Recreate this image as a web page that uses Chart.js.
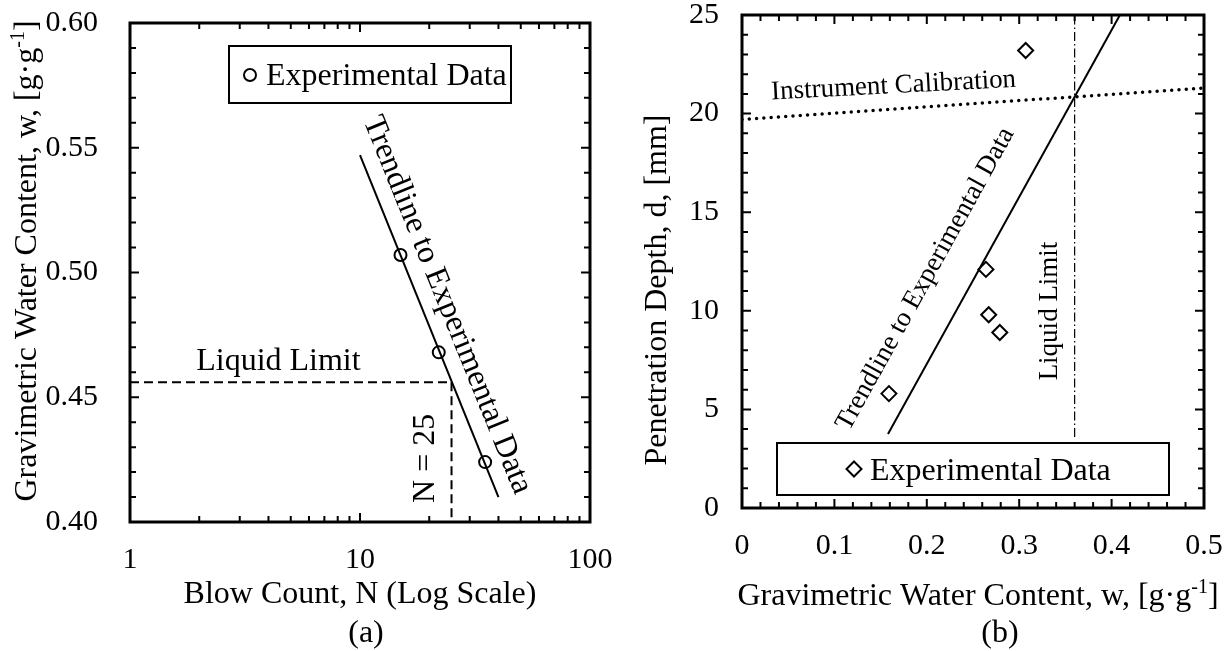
<!DOCTYPE html>
<html>
<head>
<meta charset="utf-8">
<script src="https://cdn.jsdelivr.net/npm/chart.js@4.4.0/dist/chart.umd.min.js"></script>
<style>
  html, body { margin: 0; padding: 0; background: #fff; }
  #wrap { position: relative; width: 1224px; height: 651px; overflow: hidden; }
  canvas { position: absolute; top: 0; }
</style>
</head>
<body>
<div id="wrap">
  <canvas id="cup" width="612" height="651" style="left:0"></canvas>
  <canvas id="cone" width="612" height="651" style="left:612px"></canvas>
</div>
<script>
const FONT = "'Liberation Serif', 'Times New Roman', Times, serif"
Chart.defaults.font.family = FONT
Chart.defaults.color = '#000'

// (a) cup method
const blowCount = [15, 22, 35]
const cupWater = [0.507, 0.468, 0.424]
const cupTrendN = [10, 40]
const cupTrendW = [0.547, 0.410]
const cupLL = 0.456        // water content at N = 25
const cupN = 25
const cupXTicks = [1, 10, 100]
const cupYTicks = [0.40, 0.45, 0.50, 0.55, 0.60]

// (b) fall cone
const coneWater = [0.307, 0.264, 0.267, 0.279, 0.159]
const coneDepth = [23.2, 12.1, 9.8, 8.9, 5.8]
const coneTrendW = [0.158, 0.409]
const coneTrendD = [3.75, 25]
const calibW = [0, 0.5]
const calibD = [19.7, 21.3]
const coneLL = 0.36
const coneLLD = [3.6, 25]
const coneXTicks = [0, 0.1, 0.2, 0.3, 0.4, 0.5]
const coneYTicks = [0, 5, 10, 15, 20, 25]

const pts = (xs, ys) => xs.map((x, i) => ({ x, y: ys[i] }))

// minor tick positions (axis decoration only)
const minors = (from, to, step, every) => {
    const out = []
    for (let i = from; i <= to; i++) if (i % every) out.push(i * step)
    return out
}
const cupXMinor = [2, 3, 4, 5, 6, 7, 8, 9].flatMap(m => [m, m * 10])
const cupYMinor = minors(41, 59, 0.01, 5)
const coneXMinor = minors(1, 24, 0.02, 5)
const coneYMinor = minors(1, 24, 1, 5)

function fixed(w, h){
    return s => {
        if (w) s.width = w
        if (h) s.height = h
        s.paddingLeft = s.paddingRight = s.paddingTop = s.paddingBottom = 0
    }
}

function axis(type, min, max, values, fmt, pad, fit){
    return {
        type, min, max,
        afterBuildTicks: s => { s.ticks = values.map(v => ({ value: v })) },
        afterFit: fit,
        grid: { display: false, drawTicks: false },
        border: { display: false },
        ticks: { padding: pad, autoSkip: false, maxRotation: 0, minRotation: 0,
                 font: { size: 30 }, color: '#000', callback: v => fmt(v) }
    }
}

function drawRich(ctx, parts, x, y, rot, size){
    ctx.save()
    ctx.translate(x, y)
    ctx.rotate(rot)
    const fonts = parts.map(p => (p.sup ? Math.round(size * 0.62) : size) + 'px ' + FONT)
    let total = 0
    const widths = parts.map((p, i) => { ctx.font = fonts[i]; const w = ctx.measureText(p.t).width; total += w; return w })
    let cx = -total / 2
    ctx.textAlign = 'left'
    ctx.textBaseline = 'alphabetic'
    parts.forEach((p, i) => {
        ctx.font = fonts[i]
        ctx.fillText(p.t, cx, p.sup ? -size * 0.38 : 0)
        cx += widths[i]
    })
    ctx.restore()
}

function marker(ctx, style, cx, cy){
    ctx.beginPath()
    if (style === 'circle') ctx.arc(cx, cy, 6, 0, Math.PI * 2)
    else { ctx.moveTo(cx, cy - 7.5); ctx.lineTo(cx + 7.5, cy); ctx.lineTo(cx, cy + 7.5); ctx.lineTo(cx - 7.5, cy); ctx.closePath() }
    ctx.lineWidth = 2
    ctx.stroke()
}

// frame, inward ticks, annotations, legend and titles
function deco(cfg){
    return {
        id: 'deco',
        afterDatasetsDraw(chart){
            const { ctx, chartArea: a, scales: { x, y } } = chart
            ctx.save()
            ctx.fillStyle = '#000'
            ctx.strokeStyle = '#000'
            ctx.lineWidth = 2
            const mark = (scale, values, len) => values.forEach(v => {
                const p = scale.getPixelForValue(v)
                ctx.beginPath()
                if (scale.isHorizontal()){
                    ctx.moveTo(p, a.bottom); ctx.lineTo(p, a.bottom - len)
                    ctx.moveTo(p, a.top); ctx.lineTo(p, a.top + len)
                } else {
                    ctx.moveTo(a.left, p); ctx.lineTo(a.left + len, p)
                    ctx.moveTo(a.right, p); ctx.lineTo(a.right - len, p)
                }
                ctx.stroke()
            })
            mark(x, cfg.xMajor, 9); mark(x, cfg.xMinor, 6)
            mark(y, cfg.yMajor, 9); mark(y, cfg.yMinor, 6)
            ctx.lineWidth = 3
            ctx.strokeRect(a.left, a.top, a.right - a.left, a.bottom - a.top)

            cfg.labels.forEach(l => {
                const px = x.getPixelForValue(l.at[0]), py = y.getPixelForValue(l.at[1])
                const rot = typeof l.rot === 'function' ? l.rot(x, y) : l.rot
                ctx.save()
                ctx.translate(px, py)
                ctx.rotate(rot)
                ctx.font = l.size + 'px ' + FONT
                ctx.textAlign = l.align || 'center'
                ctx.textBaseline = l.base || 'middle'
                ctx.fillText(l.text, 0, 0)
                ctx.restore()
            })

            const g = cfg.legend(a)
            ctx.lineWidth = 2
            ctx.strokeRect(g.x, g.y, g.w, g.h)
            marker(ctx, g.style, g.x + g.mx, g.y + g.my)
            ctx.font = '32px ' + FONT
            ctx.textAlign = 'left'
            ctx.textBaseline = 'alphabetic'
            ctx.fillText('Experimental Data', g.x + g.tx, g.y + g.ty)

            cfg.titles.forEach(t => drawRich(ctx, t.parts, t.x, t.y, t.rot || 0, 32))
            ctx.restore()
        }
    }
}

const along = (xs, ys) => (x, y) => Math.atan2(
    y.getPixelForValue(ys[1]) - y.getPixelForValue(ys[0]),
    x.getPixelForValue(xs[1]) - x.getPixelForValue(xs[0]))

const lineSet = (data, extra) => Object.assign({
    data, showLine: true, pointRadius: 0, borderColor: '#000', borderWidth: 2, fill: false
}, extra)

const common = {
    responsive: false, animation: false, devicePixelRatio: 1, events: [],
    plugins: { legend: { display: false }, tooltip: { enabled: false } }
}

new Chart(document.getElementById('cup'), {
    type: 'scatter',
    data: { datasets: [
        lineSet(pts(cupTrendN, cupTrendW)),
        lineSet(pts([1, cupN], [cupLL, cupLL]), { borderDash: [9, 5] }),
        lineSet(pts([cupN, cupN], [cupLL, cupYTicks[0]]), { borderDash: [9, 5] }),
        { data: pts(blowCount, cupWater), pointStyle: 'circle', pointRadius: 6, borderWidth: 2,
          borderColor: '#000', backgroundColor: 'rgba(0,0,0,0)' }
    ]},
    options: Object.assign({}, common, {
        layout: { padding: { left: 0, top: 23, right: 22, bottom: 0 } },
        scales: {
            x: axis('logarithmic', 1, 100, cupXTicks, v => String(v), 20, fixed(null, 129)),
            y: axis('linear', 0.4, 0.6, cupYTicks, v => v.toFixed(2), 32, fixed(130, null))
        }
    }),
    plugins: [deco({
        xMajor: cupXTicks, xMinor: cupXMinor, yMajor: cupYTicks, yMinor: cupYMinor,
        labels: [
            { text: 'Trendline to Experimental Data', at: [23.9, 0.487], size: 32, rot: along(cupTrendN, cupTrendW) },
            { text: 'Liquid Limit', at: [1.94, 0.4608], size: 32, rot: 0, align: 'left', base: 'alphabetic' },
            { text: 'N = 25', at: [19.2, 0.4255], size: 32, rot: -Math.PI / 2 }
        ],
        legend: a => ({ x: a.left + 99, y: a.top + 23, w: 282, h: 57, style: 'circle', mx: 21, my: 29, tx: 37, ty: 39 }),
        titles: [
            { parts: [{ t: 'Blow Count, N (Log Scale)' }], x: 360, y: 603 },
            { parts: [{ t: 'Gravimetric Water Content, w, [g\u00b7g' }, { t: '-1', sup: true }, { t: ']' }], x: 36, y: 261, rot: -Math.PI / 2 },
            { parts: [{ t: '(a)' }], x: 366, y: 642 }
        ]
    })]
})

new Chart(document.getElementById('cone'), {
    type: 'scatter',
    data: { datasets: [
        lineSet(pts(coneTrendW, coneTrendD)),
        lineSet(pts(calibW, calibD), { borderDash: [0, 7.3], borderCapStyle: 'round', borderWidth: 3.5 }),
        lineSet(pts([coneLL, coneLL], coneLLD), { borderDash: [9, 3, 1.5, 3], borderWidth: 1.2 }),
        { data: pts(coneWater, coneDepth), pointStyle: 'rectRot', pointRadius: 7.5, borderWidth: 2,
          borderColor: '#000', backgroundColor: 'rgba(0,0,0,0)' }
    ]},
    options: Object.assign({}, common, {
        layout: { padding: { left: 0, top: 15, right: 20, bottom: 0 } },
        scales: {
            x: axis('linear', 0, 0.5, coneXTicks, v => v === 0 ? '0' : v.toFixed(1), 20, fixed(null, 143)),
            y: axis('linear', 0, 25, coneYTicks, v => String(v), 23, fixed(130, null))
        }
    }),
    plugins: [deco({
        xMajor: coneXTicks, xMinor: coneXMinor, yMajor: coneYTicks, yMinor: coneYMinor,
        labels: [
            { text: 'Trendline to Experimental Data', at: [0.1985, 11.61], size: 27, rot: along(coneTrendW, coneTrendD) },
            { text: 'Instrument Calibration', at: [0.164, 21.4], size: 27, rot: -0.052 },
            { text: 'Liquid Limit', at: [0.333, 9.99], size: 27, rot: -Math.PI / 2 }
        ],
        legend: a => ({ x: a.left + 35, y: a.bottom - 65, w: 392, h: 52, style: 'diamond', mx: 77, my: 26, tx: 93, ty: 37 }),
        titles: [
            { parts: [{ t: 'Gravimetric Water Content, w, [g\u00b7g' }, { t: '-1', sup: true }, { t: ']' }], x: 366, y: 605 },
            { parts: [{ t: 'Penetration Depth, d, [mm]' }], x: 54, y: 290, rot: -Math.PI / 2 },
            { parts: [{ t: '(b)' }], x: 388, y: 642 }
        ]
    })]
})
</script>
</body>
</html>
